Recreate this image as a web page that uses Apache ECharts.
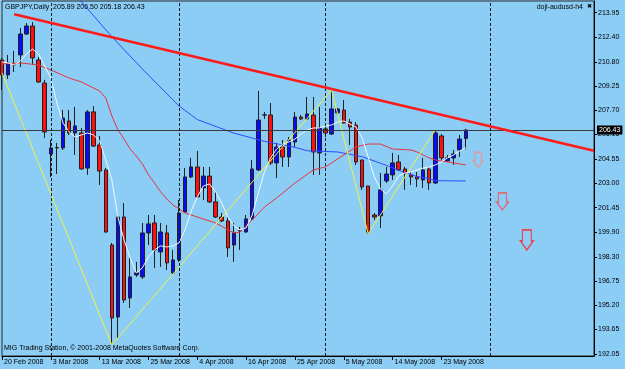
<!DOCTYPE html>
<html>
<head>
<meta charset="utf-8">
<script src="https://cdn.jsdelivr.net/npm/echarts@6/dist/echarts.min.js"></script>
<style>
  html, body { margin: 0; padding: 0; background: #8ccdf5; }
  #chart { width: 625px; height: 369px; }
</style>
</head>
<body>
<div id="chart"></div>
<script>
// GBPJPY daily bars, one row per bar: [open, close, low, high]
const candles = [
  [210.92, 209.96, 208.99, 211.05], [209.96, 210.73, 209.70, 211.24], [210.66, 210.60, 210.15, 211.50],
  [211.24, 212.58, 210.47, 212.97], [212.58, 213.10, 212.52, 213.29], [213.10, 211.05, 210.60, 213.35],
  [210.92, 209.51, 209.44, 211.11], [209.44, 206.30, 205.92, 209.64], [204.89, 205.28, 203.42, 205.79],
  [205.28, 205.30, 203.61, 205.60], [205.28, 207.20, 205.15, 207.71], [207.01, 206.24, 206.11, 207.71],
  [206.24, 206.69, 204.83, 207.91], [206.24, 203.93, 203.90, 206.56], [203.99, 207.59, 203.55, 207.71],
  [207.59, 205.40, 205.34, 207.97], [205.47, 203.80, 202.91, 206.05], [203.87, 199.89, 199.83, 203.99],
  [199.06, 194.38, 192.65, 199.19], [194.44, 200.85, 193.10, 200.98], [200.85, 195.53, 195.34, 201.75],
  [195.66, 197.01, 195.02, 198.23], [197.14, 197.27, 197.01, 197.97], [197.01, 199.83, 196.88, 200.47],
  [199.83, 200.41, 199.06, 200.98], [200.47, 198.74, 197.59, 200.98], [198.61, 199.89, 197.65, 200.47],
  [199.83, 197.91, 197.46, 200.34], [197.27, 198.10, 197.14, 198.74], [198.10, 201.11, 197.97, 201.94],
  [201.17, 203.42, 201.11, 203.99], [203.42, 204.06, 203.35, 204.64], [204.06, 202.14, 202.14, 205.09],
  [202.71, 203.48, 201.94, 204.06], [203.48, 201.82, 201.75, 204.06], [201.82, 200.85, 200.79, 202.46],
  [200.85, 200.60, 200.53, 201.11], [200.60, 198.87, 198.29, 200.85], [199.06, 199.83, 197.97, 200.47],
  [199.96, 199.98, 198.74, 200.22], [199.89, 200.73, 199.83, 200.98], [200.73, 203.93, 200.66, 204.51],
  [203.87, 207.07, 203.80, 208.93], [207.39, 207.40, 207.14, 207.59], [207.39, 204.32, 204.19, 208.16],
  [204.32, 205.34, 203.35, 205.60], [205.34, 204.70, 204.06, 205.79], [204.70, 205.79, 204.06, 205.98],
  [205.66, 207.26, 205.34, 207.59], [207.26, 207.14, 207.07, 207.39], [207.14, 207.46, 207.07, 208.55],
  [207.39, 205.02, 203.55, 208.55], [204.96, 206.56, 203.55, 207.91], [206.50, 206.24, 205.98, 206.62],
  [206.17, 207.78, 206.11, 208.99], [207.53, 207.78, 207.39, 207.84], [207.71, 206.88, 206.85, 208.35],
  [206.94, 206.62, 205.47, 207.14], [206.75, 204.38, 204.19, 206.94], [204.51, 202.78, 202.59, 204.51],
  [202.84, 199.89, 199.77, 202.84], [200.98, 200.85, 200.66, 201.11], [200.92, 202.59, 200.15, 203.67],
  [203.16, 203.61, 203.03, 204.06], [203.55, 204.32, 203.23, 204.96], [204.38, 203.87, 203.80, 204.83],
  [203.93, 203.67, 202.59, 204.06], [203.55, 203.42, 202.91, 203.74], [203.42, 203.29, 202.78, 203.74],
  [203.23, 203.87, 202.71, 204.64], [203.93, 203.03, 202.59, 204.06], [203.03, 206.24, 202.97, 206.43],
  [206.05, 204.64, 204.51, 206.17], [204.44, 204.64, 204.38, 204.83], [204.64, 204.89, 204.19, 205.15],
  [205.15, 205.85, 204.70, 206.11], [205.89, 206.43, 205.18, 206.50]
]
const totalBars = 98            // bars plus the empty space up to the price scale
const labelStep = 8
const dateLabels = ['20 Feb 2008', '3 Mar 2008', '13 Mar 2008', '25 Mar 2008', '4 Apr 2008',
  '16 Apr 2008', '25 Apr 2008', '5 May 2008', '14 May 2008', '23 May 2008']
const priceTicks = [192.05, 193.65, 195.20, 196.75, 198.30, 199.90, 201.45, 203.00, 204.55,
  206.15, 207.70, 209.25, 210.80, 212.40, 213.95]

// short smoothed average (white), one value per bar
const whiteMa = [210.79, 210.73, 210.60, 210.85, 211.30, 211.62, 211.30, 210.53, 209.76, 208.16,
  206.88, 206.30, 205.98, 206.11, 206.24, 206.11, 205.73, 204.51, 203.23, 200.85,
  199.38, 198.23, 197.27, 197.59, 198.29, 198.74, 199.00, 198.93, 199.00, 199.19,
  200.02, 201.24, 202.14, 202.84, 202.97, 202.46, 201.75, 200.85, 200.28, 200.02,
  200.15, 200.98, 202.39, 203.74, 204.64, 205.21, 205.53, 205.66, 205.85, 206.17,
  206.43, 206.56, 206.56, 206.69, 206.75, 206.94, 207.01, 206.82, 206.62, 205.92,
  204.70, 203.42, 202.65, 202.33, 202.84, 203.48, 203.67, 203.74, 203.87, 203.99,
  204.06, 204.19, 204.38, 204.64, 204.83, 205.09, 205.28]
// medium average (red), [bar, price]
const redMa = [[0, 210.66], [3, 210.73], [6, 210.60], [8, 210.28], [11, 209.76], [13, 209.51],
  [16, 208.93], [17, 208.48], [18, 207.33], [19, 206.43], [20, 205.85], [21, 205.21],
  [22, 204.76], [23, 204.25], [24, 203.55], [25, 203.03], [26, 202.46], [27, 202.01],
  [28, 201.62], [29, 201.37], [30, 201.11], [32, 200.85], [35, 200.47], [38, 199.83],
  [39, 199.89], [40, 200.28], [41, 200.66], [43, 201.49], [45, 202.07], [48, 203.03],
  [51, 203.87], [53, 204.06], [56, 204.83], [58, 205.34], [60, 205.53], [62, 205.53],
  [64, 205.21], [67, 205.15], [68, 205.02], [70, 204.64], [71, 204.51], [73, 204.38], [76, 204.19]]
// long average (blue), [bar, price]
const blueMa = [[12, 215.11], [18, 212.41], [23, 210.34], [29, 207.97], [32, 207.10], [38, 206.23],
  [43, 205.70], [48, 205.32], [50, 205.10], [55, 205.02], [59, 204.72], [63, 204.16],
  [66, 203.70], [68, 203.45], [70, 203.32], [71, 203.18], [76, 203.16]]
const zigzag = [[0, 210.09], [18, 192.65], [54, 208.99], [60, 199.77], [71, 206.43]]
const trendLine = [[2, 213.85], [97, 205.10]]
const separators = [8, 29, 53, 80]
const arrows = [[78, 204.51], [82, 201.85], [86, 199.38]]
const arrowSizes = [[10, 15], [12, 17], [13, 20]]
const arrowColors = ['#f28c8c', '#f45454', '#ff2424']

const last = candles[candles.length - 1]
const headText = 'GBPJPY,Daily  ' + [last[0], last[3], last[2], last[1]].map(v => v.toFixed(2)).join(' ')
const categories = Array.from({ length: totalBars }, (_, i) => String(i))
const showDate = (i) => i % labelStep === 0 && i / labelStep < dateLabels.length
const font = 'Liberation Sans, Arial, sans-serif'
const arrowPath = 'path://M1.6,0 L8.4,0 L8.4,6.5 L10,6.5 L5,12 L0,6.5 L1.6,6.5 Z'

const chart = echarts.init(document.getElementById('chart'))
chart.setOption({
  backgroundColor: '#8ccdf5',
  animation: false,
  textStyle: { fontFamily: font },
  grid: { left: 2, right: 31, top: 1, bottom: 13, show: true, borderColor: '#2a2a2a', borderWidth: 1 },
  xAxis: {
    type: 'category', data: categories, boundaryGap: false,
    axisLine: { lineStyle: { color: '#000', width: 1 } },
    axisTick: { interval: showDate, length: 4, lineStyle: { color: '#000' } },
    axisLabel: {
      interval: showDate, align: 'left', margin: 3, fontSize: 7, color: '#000', fontFamily: font,
      padding: [0, 0, 0, 2],
      formatter: (v, i) => dateLabels[i / labelStep] || ''
    },
    splitLine: { show: false }
  },
  yAxis: {
    type: 'value', position: 'right', min: 191.94, max: 214.70,
    axisLine: { show: true, lineStyle: { color: '#000', width: 1 } },
    axisTick: { show: true, length: 3, customValues: priceTicks, lineStyle: { color: '#000' } },
    axisLabel: {
      customValues: priceTicks, margin: 4, fontSize: 7, color: '#000', fontFamily: font,
      formatter: v => v.toFixed(2)
    },
    splitLine: { show: false }
  },
  graphic: [
    { type: 'text', left: 5, top: 4, style: { text: headText, fontSize: 7, fill: '#000', fontFamily: font } },
    { type: 'text', right: 42, top: 4, style: { text: 'doji-audusd-h4', fontSize: 7, fill: '#000', fontFamily: font } },
    { type: 'text', right: 33, top: 3, style: { text: '✖', fontSize: 6, fill: '#000', fontFamily: 'DejaVu Sans' } },
    { type: 'text', left: 4, top: 345, style: { text: 'MIG Trading Station, © 2001-2008 MetaQuotes Software Corp.', fontSize: 7, fill: '#000', fontFamily: font } }
  ],
  series: [
    {
      type: 'candlestick', data: candles, barWidth: 4, z: 2,
      itemStyle: {
        color: '#0a0aff', color0: '#ff1010',
        borderColor: '#202020', borderColor0: '#202020', borderColorDoji: '#202020', borderWidth: 1
      },
      markLine: {
        silent: true, symbol: 'none',
        lineStyle: { color: '#3a3a3a', width: 1, type: 'solid' },
        label: {
          show: true, position: 'end', distance: 3, formatter: v => v.value.toFixed(2),
          backgroundColor: '#000', color: '#fff', fontSize: 7, padding: [1, 2, 1, 2], fontFamily: font
        },
        data: [{ yAxis: last[1] }]
      }
    },
    {
      type: 'line', data: blueMa, showSymbol: false, z: 3,
      lineStyle: { color: '#2f4cff', width: 1 }
    },
    {
      type: 'line', data: redMa, showSymbol: false, z: 3,
      lineStyle: { color: '#e8343c', width: 1 }
    },
    {
      type: 'line', data: whiteMa, showSymbol: false, z: 3,
      lineStyle: { color: '#f4f8ff', width: 1 },
      markLine: {
        silent: true, symbol: 'none', label: { show: false },
        lineStyle: { color: '#1a1a1a', width: 1, type: [3, 2] },
        data: separators.map(s => ({ xAxis: s }))
      }
    },
    {
      type: 'line', data: zigzag, showSymbol: false, z: 3,
      lineStyle: { color: '#f2f240', width: 1 },
      markLine: {
        silent: true, symbol: 'none', label: { show: false },
        lineStyle: { color: '#ff1a1a', width: 2.6, type: 'solid' },
        data: [[{ coord: trendLine[0] }, { coord: trendLine[1] }]]
      }
    },
    {
      type: 'scatter', z: 4, symbol: arrowPath,
      data: arrows.map((a, i) => ({
        value: a, symbolSize: arrowSizes[i],
        itemStyle: { color: 'rgba(0,0,0,0)', borderColor: arrowColors[i], borderWidth: 1.4 }
      }))
    }
  ]
})
</script>
</body>
</html>
